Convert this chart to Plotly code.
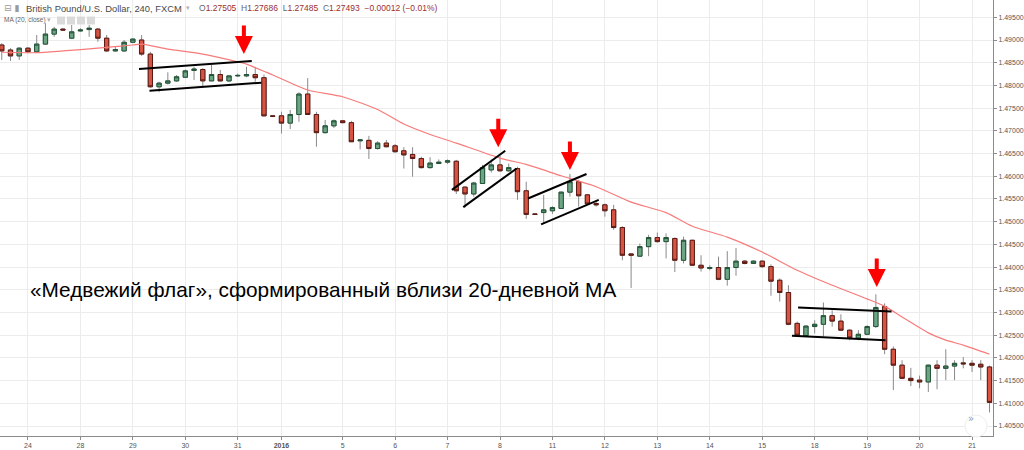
import plotly.graph_objects as go

# ---- data (GBP/USD 240) ----
bar_index = list(range(-3, 111))
opens = [1.4889, 1.4878, 1.4865, 1.4882, 1.4874, 1.4891, 1.4913, 1.4924, 1.4904, 1.4920,
         1.4923, 1.4924, 1.4904, 1.4876, 1.4876, 1.4895, 1.4900, 1.4869, 1.4797, 1.4805,
         1.4810, 1.4818, 1.4833, 1.4835, 1.4810, 1.4824, 1.4810, 1.4821, 1.4821, 1.4824,
         1.4817, 1.4733, 1.4733, 1.4717, 1.4736, 1.4781, 1.4736, 1.4696, 1.4711, 1.4722,
         1.4718, 1.4678, 1.4679, 1.4661, 1.4673, 1.4667, 1.4656, 1.4648, 1.4639, 1.4619,
         1.4628, 1.4631, 1.4633, 1.4576, 1.4561, 1.4584, 1.4614, 1.4625, 1.4612, 1.4617,
         1.4568, 1.4517, 1.4520, 1.4524, 1.4529, 1.4565, 1.4588, 1.4559, 1.4540, 1.4537,
         1.4526, 1.4487, 1.4429, 1.4424, 1.4445, 1.4465, 1.4456, 1.4463, 1.4415, 1.4459,
         1.4404, 1.4397, 1.4399, 1.4373, 1.4399, 1.4413, 1.4408, 1.4413, 1.4401, 1.4371,
         1.4344, 1.4276, 1.4249, 1.4269, 1.4274, 1.4293, 1.4281, 1.4261, 1.4244, 1.4252,
         1.4269, 1.4313, 1.4219, 1.4184, 1.4155, 1.4151, 1.4147, 1.4184, 1.4177, 1.4182,
         1.4189, 1.4188, 1.4186, 1.4180]
highs = [1.4893, 1.4882, 1.4884, 1.4884, 1.4911, 1.4937, 1.4929, 1.4926, 1.4933, 1.4926,
         1.4933, 1.4926, 1.4911, 1.4885, 1.4900, 1.4904, 1.4911, 1.4874, 1.4808, 1.4829,
         1.4823, 1.4835, 1.4841, 1.4838, 1.4845, 1.4834, 1.4823, 1.4826, 1.4841, 1.4841,
         1.4824, 1.4734, 1.4742, 1.4746, 1.4785, 1.4816, 1.4742, 1.4724, 1.4725, 1.4724,
         1.4722, 1.4681, 1.4689, 1.4677, 1.4680, 1.4671, 1.4664, 1.4664, 1.4643, 1.4642,
         1.4637, 1.4637, 1.4636, 1.4578, 1.4588, 1.4625, 1.4637, 1.4645, 1.4628, 1.4621,
         1.4588, 1.4518, 1.4559, 1.4534, 1.4566, 1.4605, 1.4592, 1.4561, 1.4548, 1.4540,
         1.4537, 1.4490, 1.4430, 1.4452, 1.4471, 1.4476, 1.4474, 1.4465, 1.4467, 1.4460,
         1.4426, 1.4404, 1.4423, 1.4435, 1.4442, 1.4415, 1.4415, 1.4415, 1.4406, 1.4375,
         1.4360, 1.4280, 1.4272, 1.4283, 1.4322, 1.4305, 1.4296, 1.4263, 1.4261, 1.4272,
         1.4340, 1.4320, 1.4225, 1.4195, 1.4178, 1.4161, 1.4185, 1.4195, 1.4219, 1.4195,
         1.4202, 1.4195, 1.4195, 1.4183]
lows = [1.4856, 1.4854, 1.4856, 1.4871, 1.4871, 1.4889, 1.4907, 1.4920, 1.4902, 1.4918,
        1.4907, 1.4896, 1.4874, 1.4874, 1.4874, 1.4893, 1.4865, 1.4795, 1.4785, 1.4802,
        1.4808, 1.4816, 1.4812, 1.4797, 1.4810, 1.4808, 1.4807, 1.4819, 1.4818, 1.4808,
        1.4732, 1.4731, 1.4694, 1.4704, 1.4720, 1.4735, 1.4665, 1.4694, 1.4706, 1.4717,
        1.4676, 1.4659, 1.4638, 1.4659, 1.4664, 1.4652, 1.4617, 1.4599, 1.4617, 1.4617,
        1.4627, 1.4627, 1.4561, 1.4531, 1.4555, 1.4583, 1.4608, 1.4610, 1.4610, 1.4548,
        1.4506, 1.4515, 1.4496, 1.4517, 1.4528, 1.4555, 1.4533, 1.4538, 1.4533, 1.4511,
        1.4482, 1.4415, 1.4354, 1.4423, 1.4424, 1.4454, 1.4419, 1.4389, 1.4408, 1.4403,
        1.4390, 1.4393, 1.4371, 1.4359, 1.4381, 1.4406, 1.4407, 1.4398, 1.4337, 1.4324,
        1.4272, 1.4248, 1.4247, 1.4254, 1.4247, 1.4269, 1.4259, 1.4239, 1.4239, 1.4250,
        1.4266, 1.4208, 1.4129, 1.4153, 1.4138, 1.4133, 1.4125, 1.4131, 1.4151, 1.4151,
        1.4177, 1.4169, 1.4151, 1.4080]
closes = [1.4876, 1.4865, 1.4882, 1.4874, 1.4891, 1.4913, 1.4924, 1.4922, 1.4918, 1.4922,
          1.4926, 1.4904, 1.4876, 1.4879, 1.4895, 1.4902, 1.4869, 1.4797, 1.4805, 1.4810,
          1.4819, 1.4832, 1.4836, 1.4810, 1.4824, 1.4810, 1.4821, 1.4822, 1.4824, 1.4817,
          1.4733, 1.4732, 1.4717, 1.4736, 1.4781, 1.4736, 1.4696, 1.4711, 1.4722, 1.4718,
          1.4676, 1.4680, 1.4661, 1.4673, 1.4665, 1.4654, 1.4647, 1.4639, 1.4619, 1.4629,
          1.4631, 1.4634, 1.4568, 1.4561, 1.4585, 1.4619, 1.4625, 1.4612, 1.4619, 1.4566,
          1.4516, 1.4516, 1.4526, 1.4531, 1.4565, 1.4588, 1.4557, 1.4539, 1.4537, 1.4524,
          1.4487, 1.4426, 1.4426, 1.4445, 1.4465, 1.4456, 1.4465, 1.4415, 1.4459, 1.4404,
          1.4398, 1.4399, 1.4373, 1.4399, 1.4413, 1.4408, 1.4413, 1.4401, 1.4369, 1.4344,
          1.4274, 1.4250, 1.4270, 1.4274, 1.4293, 1.4281, 1.4261, 1.4244, 1.4252, 1.4269,
          1.4311, 1.4219, 1.4184, 1.4155, 1.4150, 1.4147, 1.4184, 1.4177, 1.4182, 1.4188,
          1.4187, 1.4184, 1.4180, 1.4102]

# MA (20, close)
ma_index = [-3, 1, 4, 8, 12, 13, 16, 20, 24, 25, 28, 32, 36, 40, 43, 46, 49, 54, 57, 61,
            65, 69, 73, 76, 80, 84, 88, 92, 96, 98, 100, 103, 105, 107, 110]
ma_values = [1.4873, 1.4872, 1.4876, 1.4882, 1.4889, 1.4891, 1.4880, 1.4869, 1.4852, 1.4847,
             1.4823, 1.4790, 1.4775, 1.4747, 1.4715, 1.4692, 1.4673, 1.4640, 1.4626, 1.4601,
             1.4577, 1.4543, 1.4520, 1.4490, 1.4466, 1.4433, 1.4393, 1.4360, 1.4330, 1.4314,
             1.4290, 1.4255, 1.4239, 1.4228, 1.4208]

# flag trend lines: (x0, y0, x1, y1)
flag_lines = [
    (12.7, 1.4836, 25.6, 1.4854),
    (13.9, 1.4788, 26.7, 1.4806),
    (48.5, 1.4570, 54.6, 1.4656),
    (49.8, 1.4532, 55.9, 1.4617),
    (57.2, 1.4551, 63.9, 1.4605),
    (58.7, 1.4494, 65.3, 1.4548),
    (88.1, 1.4311, 98.8, 1.4302),
    (87.4, 1.4249, 98.1, 1.4239),
]
# signal arrows (bar index, price at arrow tip)
arrow_x = [24.7, 53.8, 62.0, 97.1]
arrow_y = [1.4869, 1.4664, 1.4614, 1.4356]

tick_index = [0, 6, 12, 18, 24, 29, 36, 42, 48, 54, 60, 66, 72, 78, 84, 90, 96, 102, 108]
tick_text = ["24", "28", "29", "30", "31", "<b>2016</b>", "5", "6", "7", "8", "11", "12", "13",
             "14", "15", "18", "19", "20", "21"]
ytick_vals = [1.405 + 0.005 * k for k in range(19)]

UP_FILL, UP_LINE = "#6ba583", "#225437"
DN_FILL, DN_LINE = "#d75442", "#5b1a13"
WICK = "#8a8a8c"

fig = go.Figure()
# wicks
fig.add_trace(go.Candlestick(
    x=bar_index, open=opens, high=highs, low=lows, close=closes,
    increasing=dict(fillcolor=UP_FILL, line=dict(color=WICK, width=1)),
    decreasing=dict(fillcolor=DN_FILL, line=dict(color=WICK, width=1)),
    whiskerwidth=0, showlegend=False, hoverinfo="skip"))
# bodies with dark borders
body_hi = [max(o, c) for o, c in zip(opens, closes)]
body_lo = [min(o, c) for o, c in zip(opens, closes)]
fig.add_trace(go.Candlestick(
    x=bar_index, open=opens, high=body_hi, low=body_lo, close=closes,
    increasing=dict(fillcolor=UP_FILL, line=dict(color=UP_LINE, width=1)),
    decreasing=dict(fillcolor=DN_FILL, line=dict(color=DN_LINE, width=1)),
    whiskerwidth=0, showlegend=False))
# moving average
fig.add_trace(go.Scatter(x=ma_index, y=ma_values, mode="lines",
                         line=dict(color="#f77b7b", width=1.2, shape="spline", smoothing=0.6),
                         showlegend=False, hoverinfo="skip"))

for (x0, y0, x1, y1) in flag_lines:
    fig.add_shape(type="line", x0=x0, y0=y0, x1=x1, y1=y1, xref="x", yref="y",
                  line=dict(color="#000000", width=2))

for ax_, ay_ in zip(arrow_x, arrow_y):
    fig.add_annotation(x=ax_, y=ay_, xref="x", yref="y", ax=0, ay=-30, text="",
                       showarrow=True, arrowhead=2, arrowsize=0.9, arrowwidth=4,
                       arrowcolor="#ff0000")

PW, PH = 993, 436
def px(x):
    return x / PW
def py(y):
    return 1 - y / PH

# main caption
fig.add_annotation(x=px(28), y=py(289), xref="paper", yref="paper", xanchor="left",
                   yanchor="middle", showarrow=False,
                   text="«Медвежий флаг», сформированный вблизи 20-дневной МА",
                   font=dict(family="Liberation Sans, Arial", size=20.8, color="#000000"))

# header
fig.add_annotation(x=px(2), y=py(8), xref="paper", yref="paper", xanchor="left",
                   yanchor="middle", showarrow=False, text="⊟ ▮",
                   font=dict(family="DejaVu Sans", size=9, color="#9a9a9a"))
fig.add_annotation(x=px(24), y=py(8), xref="paper", yref="paper", xanchor="left",
                   yanchor="middle", showarrow=False,
                   text="British Pound/U.S. Dollar, 240, FXCM",
                   font=dict(family="Liberation Sans, Arial", size=9.4, color="#4a4a4a"))
fig.add_annotation(x=px(184), y=py(8), xref="paper", yref="paper", xanchor="left",
                   yanchor="middle", showarrow=False, text="▾",
                   font=dict(family="DejaVu Sans", size=7, color="#b0b0b0"))
val = "<span style='color:#9b2f2f'>%s</span>"
hdr = ("O" + val % "1.27505" + "  H" + val % "1.27686" + "  L" + val % "1.27485" +
       "  C" + val % "1.27493" + "  " + val % "−0.00012 (−0.01%)")
fig.add_annotation(x=px(197), y=py(8), xref="paper", yref="paper", xanchor="left",
                   yanchor="middle", showarrow=False, text=hdr,
                   font=dict(family="Liberation Sans, Arial", size=8.5, color="#666666"))
fig.add_annotation(x=px(2), y=py(20), xref="paper", yref="paper", xanchor="left",
                   yanchor="middle", showarrow=False,
                   text="MA (20, close) <span style='color:#b0b0b0'>▾</span>",
                   font=dict(family="Liberation Sans, Arial", size=6.5, color="#666666"))
for k in range(4):
    x0 = 57 + 10 * k
    fig.add_shape(type="rect", xref="paper", yref="paper", x0=px(x0), x1=px(x0 + 8),
                  y0=py(24.5), y1=py(16.5), fillcolor="#dadada", line=dict(width=0))

# bottom-right scroll button
fig.add_shape(type="circle", xref="paper", yref="paper", x0=px(965), x1=px(987),
              y0=py(437), y1=py(415), fillcolor="#ffffff", line=dict(color="#eeeeee", width=1))
fig.add_annotation(x=px(976), y=py(426), xref="paper", yref="paper", showarrow=False,
                   text="»", font=dict(family="DejaVu Sans", size=10, color="#8aa0c0"))

fig.update_layout(
    width=1024, height=450,
    margin=dict(l=0, r=31, t=0, b=14),
    paper_bgcolor="#ffffff", plot_bgcolor="#ffffff",
    font=dict(family="Liberation Sans, Arial", size=7, color="#555555"),
    boxgap=0.3,
    xaxis=dict(range=[-3.2, 110.4], rangeslider=dict(visible=False),
               tickmode="array", tickvals=tick_index, ticktext=tick_text,
               showgrid=True, gridcolor="#ececec", gridwidth=1,
               showline=True, linecolor="#8c8c8c", linewidth=1,
               ticks="outside", ticklen=3, tickcolor="#8c8c8c",
               tickfont=dict(size=7, color="#555555"), zeroline=False, fixedrange=True),
    yaxis=dict(range=[1.40280, 1.49881], side="right",
               tickmode="array", tickvals=ytick_vals,
               ticktext=["%.5f" % v for v in ytick_vals],
               showgrid=True, gridcolor="#ececec", gridwidth=1,
               showline=True, linecolor="#8c8c8c", linewidth=1,
               ticks="outside", ticklen=3, tickcolor="#8c8c8c",
               tickfont=dict(size=7, color="#555555"), zeroline=False, fixedrange=True),
)

fig.write_html("out.html", config={"displayModeBar": False},
               post_script="document.body.style.margin='0';document.body.style.overflow='hidden';")
